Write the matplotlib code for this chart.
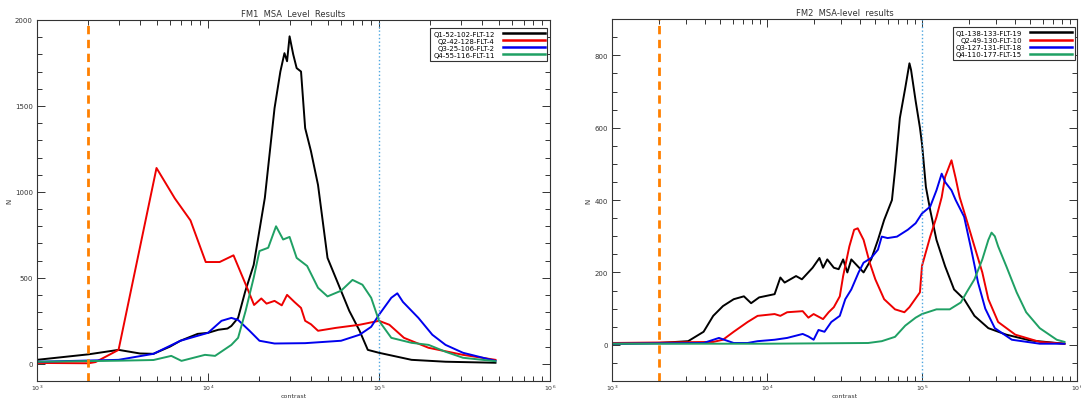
import numpy as np
import matplotlib
matplotlib.use('Agg')
import matplotlib.pyplot as plt
from matplotlib.ticker import MultipleLocator, LogLocator

# FM1 data (contrast, N)
fm1_q1_x = [1000, 2000, 3000, 4000, 4800, 6000, 6900, 8700, 10000, 11500, 13000, 13700, 15000, 16500,
            18500, 21500, 24500, 26500, 28000, 29000, 30000, 31500, 33000, 35000, 37000, 40000, 44000,
            50000, 58000, 67000, 77000, 86000, 100000, 155000, 245000, 480000]
fm1_q1_n = [23, 55, 81, 60, 58, 100, 134, 174, 180, 198, 205, 220, 267, 420,
            575, 965, 1487, 1700, 1807, 1760, 1905, 1800, 1720, 1700, 1371, 1237, 1040,
            616, 460, 308, 192, 81, 64, 23, 12, 6]

fm1_q2_x = [1000, 2000, 2200, 3000, 5000, 6400, 7900, 9700, 11700, 14100, 17000, 18600, 20500, 22000,
            24500, 27000, 29000, 32000, 35000, 37000, 40000, 44000, 56000, 77000, 100000, 115000,
            140000, 195000, 310000, 480000]
fm1_q2_n = [5, 3, 10, 81, 1139, 962, 834, 592, 592, 631, 438, 342, 380, 350,
            366, 340, 401, 360, 325, 250, 230, 192, 209, 227, 250, 227,
            151, 93, 52, 23]

fm1_q3_x = [1000, 3000, 4800, 6900, 10000, 12000, 13700, 15000, 17500, 20000, 24500, 37000, 60000,
            77000, 90000, 100000, 118000, 128000, 138000, 170000, 205000, 245000, 310000, 480000]
fm1_q3_n = [12, 23, 58, 134, 180, 250, 267, 255, 192, 134, 118, 120, 134,
            169, 215, 285, 384, 410, 360, 267, 169, 110, 64, 17]

fm1_q4_x = [1000, 3000, 4800, 6100, 7000, 9600, 11000, 13700, 15000, 16600, 18500, 20000, 22500, 25000,
            27500, 30000, 33000, 38000, 44000, 50000, 60000, 70000, 80000, 90000, 100000, 118000,
            155000, 195000, 245000, 310000, 480000]
fm1_q4_n = [12, 18, 22, 46, 17, 52, 46, 110, 151, 308, 500, 656, 675, 800,
            723, 738, 616, 569, 442, 392, 425, 488, 460, 384, 250, 151,
            122, 110, 70, 35, 15]

fm1_labels = ['Q1-52-102-FLT-12', 'Q2-42-128-FLT-4', 'Q3-25-106-FLT-2', 'Q4-55-116-FLT-11']

# FM2 data (contrast, N)
fm2_q1_x = [1000, 2000, 3100, 3900, 4500, 5200, 6100, 7100, 7900, 8900, 11200, 12200, 13000, 15400,
            16800, 19700, 21800, 23000, 24500, 27000, 29000, 31000, 33000, 35000, 42000, 47000, 52000,
            57000, 64000, 67000, 72000, 78000, 83000, 85000, 91000, 97000, 100000, 106000, 113000,
            124000, 141000, 161000, 187000, 218000, 268000, 350000, 500000, 740000, 830000]
fm2_q1_n = [3, 5, 10, 36, 80, 107, 126, 134, 115, 131, 140, 186, 172, 190,
            181, 213, 240, 213, 236, 213, 209, 236, 200, 236, 200, 236, 290,
            345, 400, 482, 627, 710, 778, 760, 674, 600, 556, 436, 372,
            290, 217, 153, 126, 80, 46, 28, 12, 5, 3]

fm2_q2_x = [1000, 4500, 5200, 6100, 7500, 8700, 11200, 12200, 13500, 17000, 18500, 20000, 23000, 25000,
            27000, 29500, 31000, 34000, 36500, 38500, 42000, 46000, 50000, 57000, 67000, 77000, 83000,
            97000, 100000, 113000, 124000, 134000, 141000, 155000, 165000, 175000, 194000, 218000,
            245000, 268000, 310000, 400000, 575000, 830000]
fm2_q2_n = [5, 8, 14, 36, 63, 80, 85, 80, 90, 93, 75, 85, 71, 90,
            104, 134, 190, 272, 318, 322, 290, 227, 181, 126, 98, 90, 104,
            145, 218, 299, 353, 408, 464, 510, 460, 408, 345, 272,
            200, 126, 63, 28, 8, 3]

fm2_q3_x = [1000, 3900, 4900, 6100, 7500, 8700, 11200, 13500, 17000, 18500, 20000, 21500, 23500, 26000,
            29500, 32000, 35000, 39000, 42000, 47000, 52000, 55000, 60000, 69000, 81000, 91000, 100000,
            113000, 124000, 134000, 141000, 155000, 165000, 187000, 208000, 230000, 256000, 295000,
            380000, 575000, 830000]
fm2_q3_n = [3, 5, 19, 5, 5, 10, 14, 19, 30, 23, 14, 41, 36, 63,
            80, 126, 153, 200, 227, 240, 263, 299, 295, 299, 318, 336, 363,
            382, 427, 473, 450, 427, 400, 354, 263, 172, 100, 46,
            14, 3, 3]

fm2_q4_x = [1000, 10000, 45000, 55000, 67000, 78000, 91000, 100000, 124000, 151000, 178000, 194000,
            218000, 245000, 268000, 281000, 295000, 310000, 350000, 408000, 470000, 575000, 740000, 830000]
fm2_q4_n = [3, 3, 5, 10, 22, 53, 75, 85, 98, 98, 117, 145,
            181, 236, 290, 310, 300, 272, 217, 145, 90, 46, 14, 8]

fm2_labels = ['Q1-138-133-FLT-19', 'Q2-49-130-FLT-10', 'Q3-127-131-FLT-18', 'Q4-110-177-FLT-15']

colors = ['black', '#ee0000', '#0000ee', '#1fa064']

fig = plt.figure(figsize=(10.81, 4.02), dpi=100)
ax1 = fig.add_axes([0.0342, 0.0498, 0.4746, 0.898])
ax2 = fig.add_axes([0.5661, 0.0498, 0.4302, 0.900])


def style_axis(ax, title, ylim, major, minor):
    ax.set_xscale('log')
    ax.set_xlim(1e3, 1e6)
    ax.set_ylim(*ylim)
    ax.yaxis.set_major_locator(MultipleLocator(major))
    ax.yaxis.set_minor_locator(MultipleLocator(minor))
    ax.xaxis.set_minor_locator(LogLocator(base=10, subs=np.arange(2, 10)))
    ax.tick_params(which='both', direction='in', top=True, right=True, labelsize=5,
                   width=0.7, colors='#333333', pad=3)
    ax.tick_params(axis='x', which='both', labelsize=4.5, pad=1.5)
    ax.tick_params(which='major', length=6)
    ax.tick_params(which='minor', length=3.5)
    for s in ax.spines.values():
        s.set_linewidth(0.8)
        s.set_color('#333333')
    ax.set_title(title, fontsize=6, pad=3, color='#333333')
    ax.set_xlabel('contrast', fontsize=4.5, labelpad=0.5, color='#333333')
    ax.set_ylabel('N', fontsize=5, labelpad=2, color='#333333')
    ax.axvline(2000, color='#ff8000', lw=2, ls=(0, (3, 2)))
    ax.axvline(1e5, color='#4da6e0', lw=1, ls=':')


# FM1 panel
for xs, ns, c, lab in zip([fm1_q1_x, fm1_q2_x, fm1_q3_x, fm1_q4_x],
                          [fm1_q1_n, fm1_q2_n, fm1_q3_n, fm1_q4_n], colors, fm1_labels):
    ax1.plot(xs, ns, color=c, lw=1.4, label=lab)
style_axis(ax1, 'FM1  MSA  Level  Results', (-100, 2000), 500, 100)

# FM2 panel
for xs, ns, c, lab in zip([fm2_q1_x, fm2_q2_x, fm2_q3_x, fm2_q4_x],
                          [fm2_q1_n, fm2_q2_n, fm2_q3_n, fm2_q4_n], colors, fm2_labels):
    ax2.plot(xs, ns, color=c, lw=1.4, label=lab)
style_axis(ax2, 'FM2  MSA-level  results', (-100, 900), 200, 50)

for ax in (ax1, ax2):
    leg = ax.legend(loc='upper right', bbox_to_anchor=(0.995, 0.978), borderaxespad=0,
                    fontsize=5, markerfirst=False, handlelength=6, handletextpad=1.2,
                    labelspacing=0.15, borderpad=0.4, fancybox=False, framealpha=1)
    leg.get_frame().set_edgecolor('#333333')
    leg.get_frame().set_linewidth(0.8)
    # right-align the labels next to the line samples
    for col in leg._legend_handle_box.get_children():
        col.align = 'right'
    for line in leg.get_lines():
        line.set_linewidth(1.8)

fig.savefig('out.png', dpi=100)
